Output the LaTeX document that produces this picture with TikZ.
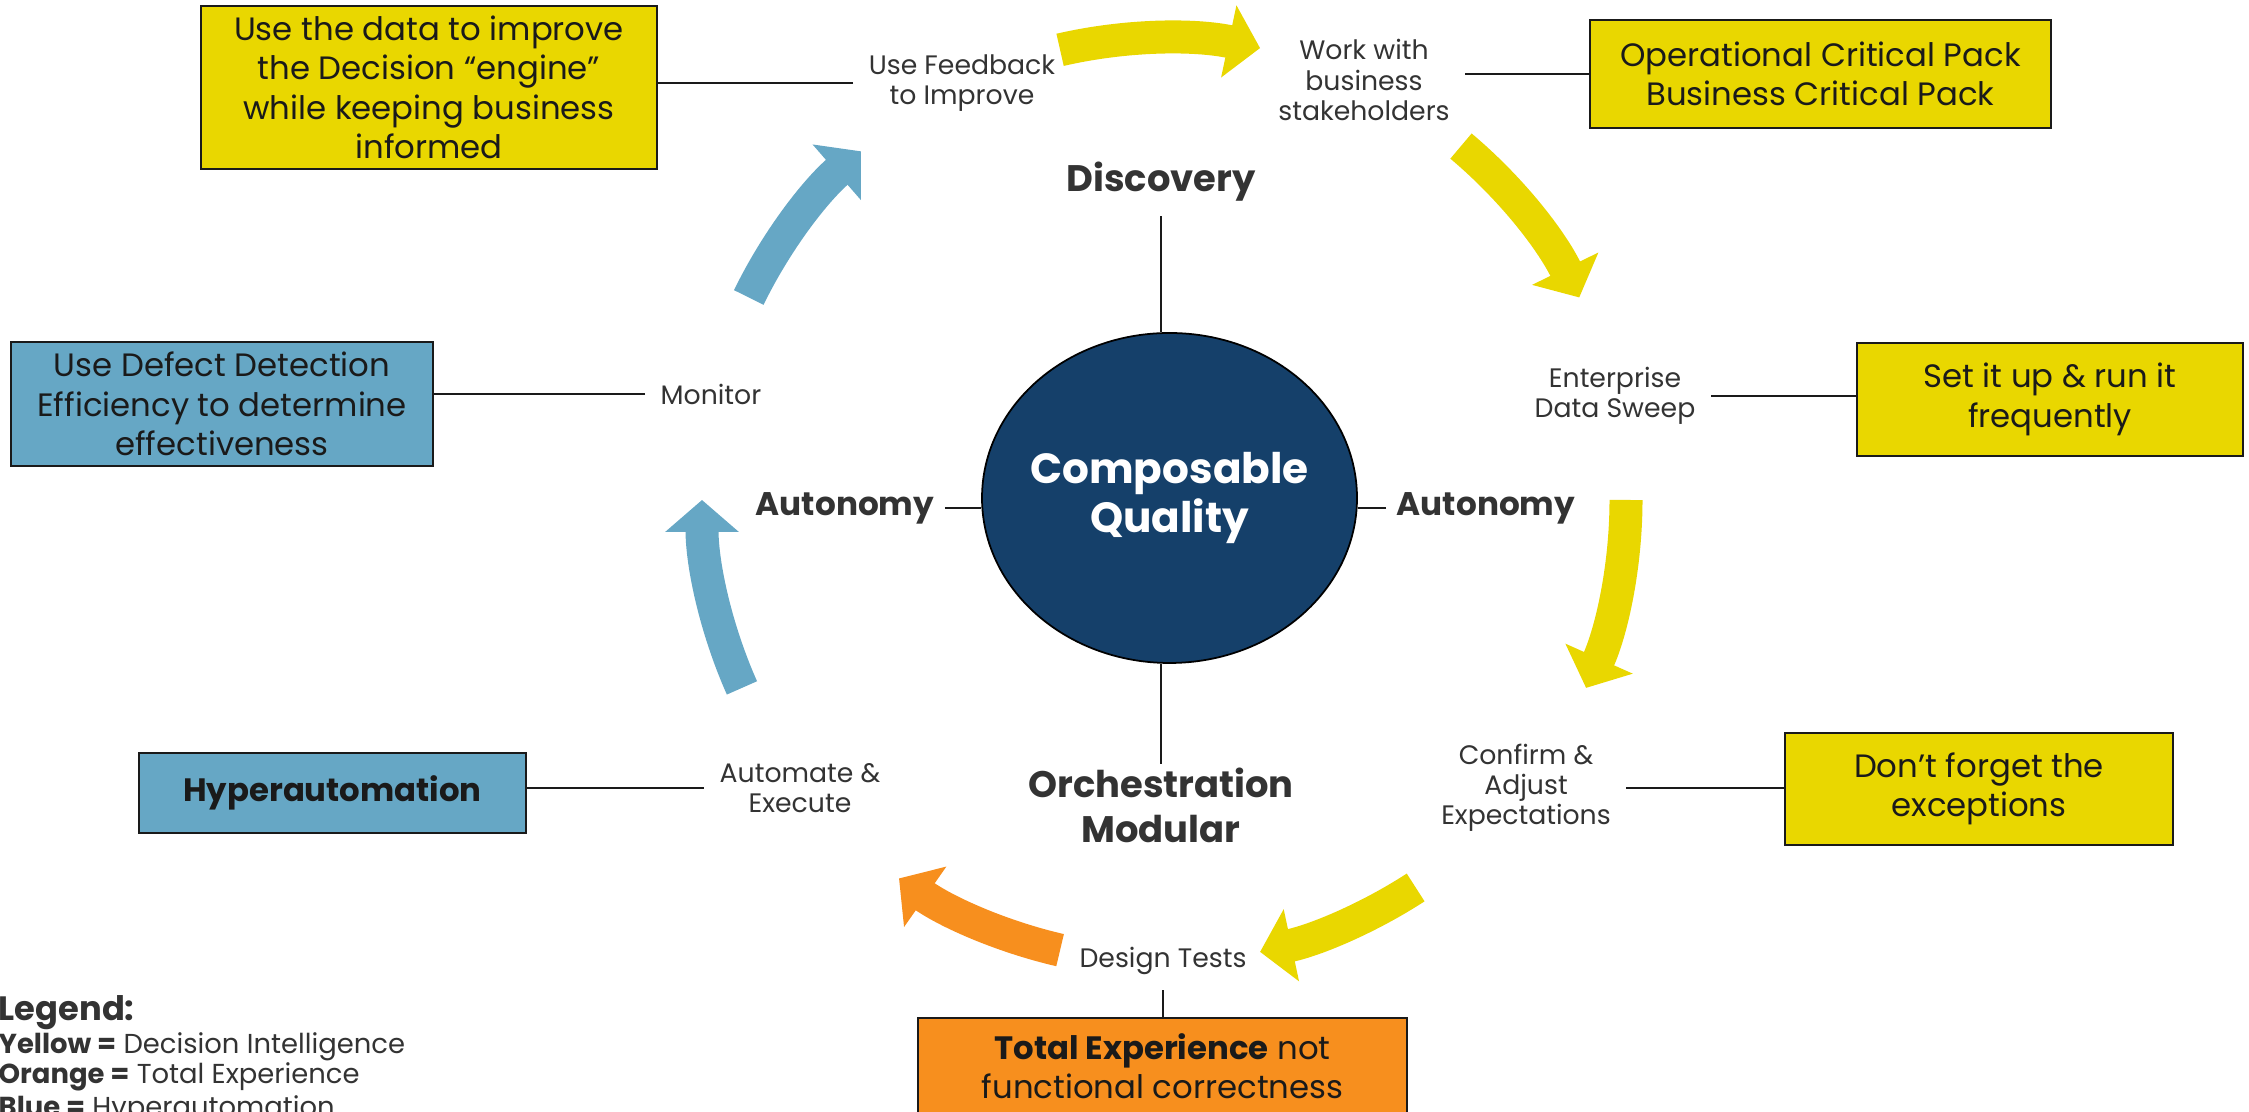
\documentclass[tikz,border=0pt]{standalone}
\usepackage{fontspec}
\setmainfont{Poppins}
\usepackage{tikz}
\usetikzlibrary{arrows.meta, positioning, shapes.geometric}

\definecolor{diyellow}{HTML}{E9D700}
\definecolor{hablue}{HTML}{66A7C5}
\definecolor{txorange}{HTML}{F78F1E}
\definecolor{cqnavy}{HTML}{15406A}
\definecolor{inkgray}{HTML}{333333}
\definecolor{boxink}{HTML}{1A1A1A}

\begin{document}
\begin{tikzpicture}[
    % Styles
    stage label/.style={font=\fontsize{7.6}{8.6}\selectfont, text=inkgray, align=center, inner sep=1.5mm},
    phase label/.style={font=\fontsize{10.5}{12.8}\selectfont\bfseries, text=inkgray, align=center, inner sep=1mm},
    note box/.style={draw=boxink, line width=0.7pt, align=center, inner sep=1mm, font=\fontsize{9.2}{11.2}\selectfont, text=boxink},
    yellow note/.style={note box, fill=diyellow},
    blue note/.style={note box, fill=hablue},
    orange note/.style={note box, fill=txorange},
    legend entry/.style={font=\fontsize{7.8}{9}\selectfont, text=inkgray, text height=1.7mm, text depth=0.45mm, inner xsep=0, inner ysep=0.5mm},
    link/.style={draw=boxink, line width=0.6pt},
    cycle arrow/.style={line width=3.3mm, -{Triangle[length=3.2mm, width=7.2mm]}},
]
    \useasboundingbox (0,0) rectangle (22.49,11.12);

    % Centre ellipse and the circle the arrows run on
    \node[ellipse, draw=black, line width=0.5pt, fill=cqnavy, minimum width=3.75cm, minimum height=3.3cm,
          inner xsep=-2mm, inner ysep=0, align=center, text=white, font=\fontsize{12}{14}\selectfont\bfseries] (cq) at (11.695,6.14) {Composable\\Quality};
    \coordinate (hub) at (11.64,6.12);

    % Phase labels round the ellipse
    \node[phase label, inner ysep=1.4mm] (disc) at (11.61,9.30) {Discovery};
    \node[phase label, inner ysep=0.3mm] (orch) at (11.61,3.07) {Orchestration\\Modular};
    \node[phase label, font=\fontsize{9.3}{11}\selectfont\bfseries] (autR) at (14.86,6.04) {Autonomy};
    \node[phase label, font=\fontsize{9.3}{11}\selectfont\bfseries] (autL) at (8.45,6.04) {Autonomy};

    % Stage labels on the cycle
    \node[stage label] (fb) at (9.62,10.29) {Use Feedback\\to Improve};
    \node[stage label] (wwb) at (13.64,10.32) {Work with\\business\\stakeholders};
    \node[stage label] (eds) at (16.15,7.16) {Enterprise\\Data Sweep};
    \node[stage label] (cae) at (15.26,3.24) {Confirm \&\\Adjust\\Expectations};
    \node[stage label] (dt) at (11.63,1.51) {Design Tests};
    \node[stage label] (ae) at (8.00,3.24) {Automate \&\\Execute};
    \node[stage label] (mon) at (7.11,7.18) {Monitor};

    % Note boxes
    \node[yellow note, minimum width=4.56cm, minimum height=1.63cm] (tlbox) at (4.29,10.245) {Use the data to improve\\the Decision “engine”\\while keeping business\\informed};
    \node[yellow note, minimum width=4.61cm, minimum height=1.08cm] (opbox) at (18.205,10.38) {Operational Critical Pack\\Business Critical Pack};
    \node[yellow note, minimum width=3.86cm, minimum height=1.13cm] (runbox) at (20.50,7.125) {Set it up \& run it\\frequently};
    \node[yellow note, minimum width=3.88cm, minimum height=1.12cm] (excbox) at (19.79,3.23) {Don’t forget the\\exceptions};
    \node[orange note, minimum width=4.89cm, minimum height=0.96cm] (txbox) at (11.625,0.46) {\textbf{Total Experience} not\\functional correctness};
    \node[blue note, minimum width=3.87cm, minimum height=0.80cm] (hbox) at (3.325,3.19) {\textbf{Hyperautomation}};
    \node[blue note, minimum width=4.22cm, minimum height=1.22cm] (ddbox) at (2.22,7.08) {Use Defect Detection\\Efficiency to determine\\effectiveness};

    % Connectors
    \draw[link] (fb.west) -- (fb.west -| tlbox.east);
    \draw[link] (opbox.west) -- (opbox.west -| wwb.east);
    \draw[link] (eds.east) -- (eds.east -| runbox.west);
    \draw[link] (cae.east) -- (cae.east -| excbox.west);
    \draw[link] (ae.west) -- (ae.west -| hbox.east);
    \draw[link] (mon.west) -- (mon.west -| ddbox.east);
    \draw[link] (dt) -- (dt |- txbox.north);
    \draw[link] (disc) -- (disc |- cq.north);
    \draw[link] (orch) -- (orch |- cq.south);
    \draw[link] (autR) -- (autR -| cq.east);
    \draw[link] (autL) -- (autL -| cq.west);

    % Cycle arrows
    \draw[cycle arrow, diyellow] ([shift={(103:4.62)}]hub) arc[start angle=103, end angle=78, radius=4.62];
    \draw[cycle arrow, diyellow] ([shift={(50:4.62)}]hub) arc[start angle=50, end angle=26, radius=4.62];
    \draw[cycle arrow, diyellow] ([shift={(0:4.62)}]hub) arc[start angle=0, end angle=-24, radius=4.62];
    \draw[cycle arrow, diyellow] ([shift={(-57:4.62)}]hub) arc[start angle=-57, end angle=-78, radius=4.62];
    \draw[cycle arrow, txorange] ([shift={(-103:4.62)}]hub) arc[start angle=-103, end angle=-125, radius=4.62];
    \draw[cycle arrow, hablue] ([shift={(-156:4.62)}]hub) arc[start angle=-156, end angle=-180, radius=4.62];
    \draw[cycle arrow, hablue] ([shift={(154:4.62)}]hub) arc[start angle=154, end angle=131, radius=4.62];

    % Legend - title anchored, entries stacked below it
    \node[anchor=west, inner sep=0, text=inkgray, font=\fontsize{9.6}{11}\selectfont\bfseries] (leg0) at (-0.02,0.99) {Legend:};
    \node[legend entry, below=0mm of leg0.south west, anchor=north west] (leg1) {\textbf{Yellow =} Decision Intelligence};
    \node[legend entry, below=-0.3mm of leg1.south west, anchor=north west] (leg2) {\textbf{Orange =} Total Experience};
    \node[legend entry, below=0mm of leg2.south west, anchor=north west] (leg3) {\textbf{Blue =} Hyperautomation};
\end{tikzpicture}
\end{document}
